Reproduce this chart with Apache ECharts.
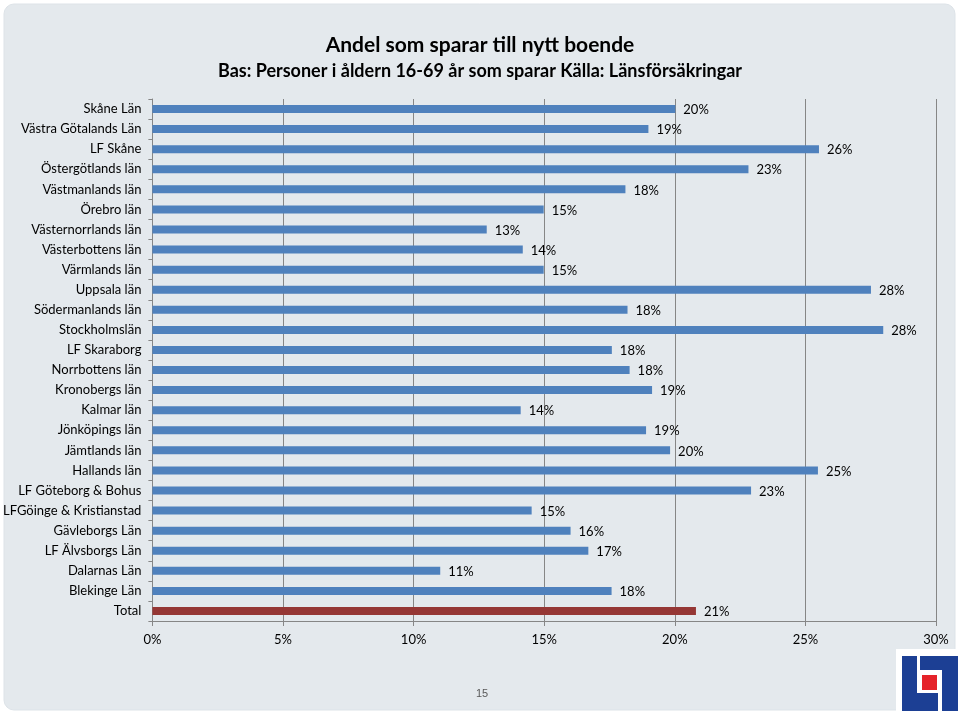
<!DOCTYPE html>
<html>
<head>
<meta charset="utf-8">
<script src="https://cdn.jsdelivr.net/npm/echarts@6/dist/echarts.min.js"></script>
<style>
html,body{margin:0;padding:0;background:#ffffff;}
#chart{width:960px;height:716px;}
</style>
</head>
<body>
<div id="chart"></div>
<script>
const categories = [
  "Skåne Län","Västra Götalands Län","LF Skåne","Östergötlands län","Västmanlands län",
  "Örebro län","Västernorrlands län","Västerbottens län","Värmlands län","Uppsala län",
  "Södermanlands län","Stockholmslän","LF Skaraborg","Norrbottens län","Kronobergs län",
  "Kalmar län","Jönköpings län","Jämtlands län","Hallands län","LF Göteborg & Bohus",
  "LFGöinge & Kristianstad","Gävleborgs Län","LF Älvsborgs Län","Dalarnas Län","Blekinge Län","Total"
];
const values = [
  20.02, 18.99, 25.52, 22.82, 18.11,
  14.98, 12.80, 14.18, 14.98, 27.51,
  18.19, 27.98, 17.59, 18.27, 19.13,
  14.10, 18.90, 19.82, 25.48, 22.92,
  14.52, 16.01, 16.69, 11.02, 17.58, 20.81
];
const xTicks = [0, 5, 10, 15, 20, 25, 30];
const titleText = "Andel som sparar till nytt boende";
const subtitleText = "Bas: Personer i åldern 16-69 år som sparar Källa: Länsförsäkringar";
const pageNumber = "15";

const FONT = "Lato, 'Open Sans', sans-serif";
const blue = "#4f81bd";
const red = "#953735";

const chart = echarts.init(document.getElementById('chart'), null, {renderer: 'canvas'});

const seriesData = values.map((v, i) => ({
  value: v,
  itemStyle: { color: categories[i] === "Total" ? red : blue }
}));

chart.setOption({
  backgroundColor: '#ffffff',
  animation: false,
  title: [
    { text: titleText, left: 'center', top: 30,
      textStyle: { fontFamily: FONT, fontSize: 21, fontWeight: 'bold', color: '#000' } },
    { text: subtitleText, left: 'center', top: 57,
      textStyle: { fontFamily: FONT, fontSize: 18, fontWeight: 'bold', color: '#000' } }
  ],
  grid: { left: 151, right: 24, top: 99, bottom: 95, containLabel: false },
  xAxis: {
    type: 'value', min: xTicks[0], max: xTicks[xTicks.length - 1], interval: 5,
    axisLine: { show: true, lineStyle: { color: '#868686', width: 1 } },
    axisTick: { show: true, length: 5, lineStyle: { color: '#868686' } },
    axisLabel: { formatter: '{value}%', margin: 12, color: '#000', fontFamily: FONT, fontSize: 13 },
    splitLine: { show: true, lineStyle: { color: '#868686', width: 1 } }
  },
  yAxis: {
    type: 'category', data: categories, inverse: true,
    axisLine: { show: true, lineStyle: { color: '#868686', width: 1 } },
    axisTick: { show: true, length: 4, alignWithLabel: false, lineStyle: { color: '#868686' } },
    axisLabel: { margin: 11, color: '#000', fontFamily: FONT, fontSize: 13 },
    splitLine: { show: false }
  },
  series: [{
    type: 'bar',
    data: seriesData,
    barWidth: 8,
    label: {
      show: true, position: 'right', distance: 8,
      formatter: p => Math.round(p.value) + '%',
      color: '#000', fontFamily: FONT, fontSize: 13, offset: [0, 1]
    }
  }],
  graphic: {
    elements: [
      { type: 'rect', z: -100, silent: true,
        shape: { x: 4, y: 4, width: 951, height: 706, r: 10 },
        style: { fill: '#e4e9ed', stroke: '#dde3e8' } },
      { type: 'rect', z: 50, silent: true,
        shape: { x: 896, y: 649, width: 64, height: 64 },
        style: { fill: '#ffffff' } },
      { type: 'polygon', z: 51, silent: true,
        shape: { points: [[902,656],[917,656],[917,693],[938,693],[938,711],[902,711]] },
        style: { fill: '#1c3f94' } },
      { type: 'polygon', z: 51, silent: true,
        shape: { points: [[920,656],[958,656],[958,711],[942,711],[942,670],[920,670]] },
        style: { fill: '#1c3f94' } },
      { type: 'rect', z: 51, silent: true,
        shape: { x: 922, y: 675, width: 15, height: 15 },
        style: { fill: '#e5232a' } },
      { type: 'text', z: 51, silent: true, left: 476, top: 688,
        style: { text: pageNumber, fill: '#595959', font: '11px Arial, "Liberation Sans", sans-serif' } }
    ]
  }
});
</script>
</body>
</html>
